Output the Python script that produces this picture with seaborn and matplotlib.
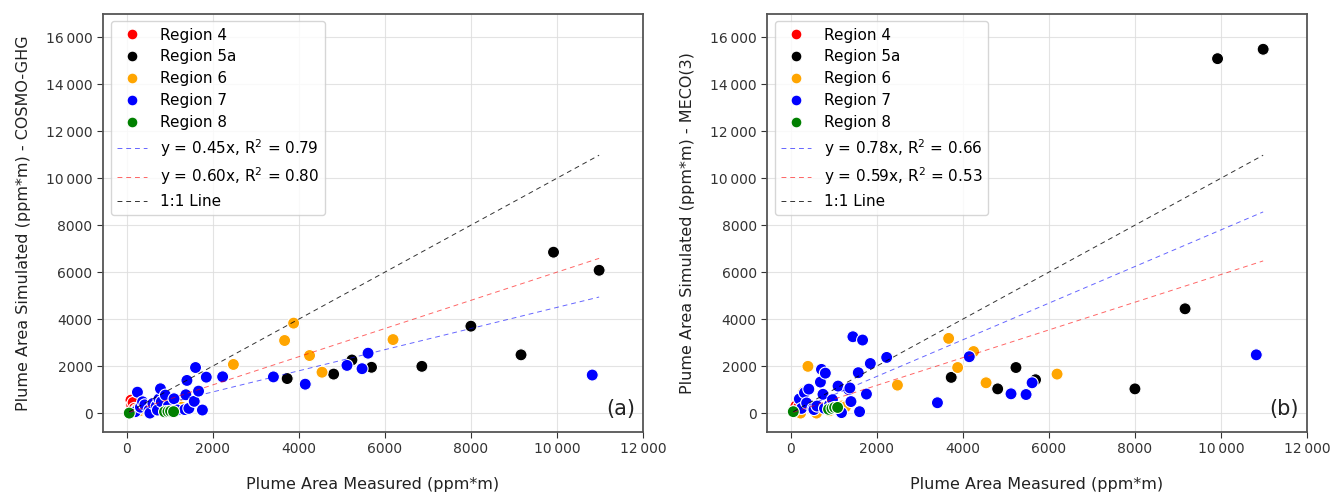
import numpy as np
import pandas as pd
import matplotlib
matplotlib.use("Agg")
import matplotlib.pyplot as plt
import seaborn as sns
from matplotlib.ticker import FuncFormatter, MultipleLocator

# measured plume area (ppm*m) and simulated values for both models, per region
region4_x = [100, 120, 150, 180]
region4_cosmo = [550, 330, 450, 200]
region4_meco = [150, 300, 100, 250]

region5a_x = [3730, 4810, 5235, 5690, 6860, 8000, 9165, 9920, 10980]
region5a_cosmo = [1470, 1660, 2260, 1950, 1990, 3700, 2480, 6850, 6080]
region5a_meco = [1520, 1030, 1940, 1420, np.nan, 1030, 4440, 15090, 15490]

region6_x = [230, 300, 400, 600, 900, 1190, 1275, 2480, 3670, 3880, 4250, 4540, 6190]
region6_cosmo = [150, 100, 200, 100, 150, 410, 250, 2070, 3090, 3830, 2450, 1740, 3130]
region6_meco = [0, 900, 1990, 0, 100, 300, 270, 1190, 3180, 1940, 2620, 1290, 1660]

region7_x = [200, 250, 320, 370, 420, 520, 540, 610, 690, 715, 750, 785, 805, 900,
             970, 1100, 1180, 1350, 1375, 1400, 1445, 1570, 1600, 1670, 1760, 1850,
             2230, 3410, 4150, 5120, 5470, 5610, 10820]
region7_cosmo = [60, 890, 250, 480, 350, 130, 0, 410, 300, 130, 600, 1035, 480, 765,
                 300, 610, 130, 150, 780, 1390, 200, 500, 1940, 935, 130, 1530,
                 1545, 1540, 1230, 2030, 1890, 2550, 1620]
region7_meco = [600, 200, 865, 430, 1020, 200, 150, 300, 1320, 1860, 800, 200, 1700, 350,
                570, 1150, 20, 1000, 1070, 490, 3250, 1720, 60, 3110, 810, 2110,
                2370, 440, 2400, 820, 790, 1290, 2480]

region8_x = [60, 880, 960, 1020, 1090]
region8_cosmo = [0, 55, 70, 80, 60]
region8_meco = [60, 160, 200, 240, 240]

regions = ["Region 4", "Region 5a", "Region 6", "Region 7", "Region 8"]
colors = ["red", "black", "orange", "blue", "green"]

fit_cosmo = [(0.45, 0.79), (0.60, 0.80)]
fit_meco = [(0.78, 0.66), (0.59, 0.53)]

rows = []
for name, xs, yc, ym in [
    ("Region 4", region4_x, region4_cosmo, region4_meco),
    ("Region 5a", region5a_x, region5a_cosmo, region5a_meco),
    ("Region 6", region6_x, region6_cosmo, region6_meco),
    ("Region 7", region7_x, region7_cosmo, region7_meco),
    ("Region 8", region8_x, region8_cosmo, region8_meco),
]:
    for x, c, m in zip(xs, yc, ym):
        rows.append({"Region": name, "measured": x, "cosmo": c, "meco": m})
df = pd.DataFrame(rows)


def fmt(v, pos):
    v = int(round(v))
    if abs(v) >= 10000:
        return f"{v:,}".replace(",", "\u2009")
    return str(v)


plt.rcParams["font.family"] = ["DejaVu Sans"]
fig = plt.figure(figsize=(13.31, 4.93), dpi=100)
ax1 = fig.add_axes([0.0774, 0.124, 0.4057, 0.848])
ax2 = fig.add_axes([0.5763, 0.124, 0.4057, 0.848])

palette = dict(zip(regions, colors))
xmin, xmax = df["measured"].min(), df["measured"].max()
xfit = np.linspace(xmin, xmax, 50)
dash = (0, (5, 4))

for ax, col, fits, ylab, tag in [
    (ax1, "cosmo", fit_cosmo, "Plume Area Simulated (ppm*m) - COSMO-GHG", "(a)"),
    (ax2, "meco", fit_meco, "Plume Area Simulated (ppm*m) - MECO(3)", "(b)"),
]:
    sns.scatterplot(data=df, x="measured", y=col, hue="Region", hue_order=regions,
                    palette=palette, s=75, edgecolor="white", linewidth=0.8,
                    ax=ax, zorder=3)
    (s1, r1), (s2, r2) = fits
    ax.plot(xfit, s1 * xfit, color="blue", ls=dash, lw=0.7, alpha=0.6,
            label=f"y = {s1:.2f}x, R$^2$ = {r1:.2f}", zorder=4)
    ax.plot(xfit, s2 * xfit, color="red", ls=dash, lw=0.7, alpha=0.6,
            label=f"y = {s2:.2f}x, R$^2$ = {r2:.2f}", zorder=4)
    ax.plot(xfit, xfit, color="black", ls=dash, lw=0.7, alpha=0.8,
            label="1:1 Line", zorder=4)
    ax.set_xlim(-550, 12000)
    ax.set_ylim(-800, 17000)
    ax.xaxis.set_major_locator(MultipleLocator(2000))
    ax.yaxis.set_major_locator(MultipleLocator(2000))
    ax.xaxis.set_major_formatter(FuncFormatter(fmt))
    ax.yaxis.set_major_formatter(FuncFormatter(fmt))
    ax.tick_params(labelsize=10, colors="#333333", length=4)
    ax.grid(True, color="#dddddd", lw=0.8, alpha=0.8)
    ax.set_axisbelow(True)
    for sp in ax.spines.values():
        sp.set_color("#555555")
        sp.set_linewidth(1.3)
    ax.set_xlabel("Plume Area Measured (ppm*m)", fontsize=11.5, color="#222222", labelpad=15)
    ax.set_ylabel(ylab, fontsize=11.5, color="#222222", labelpad=11)
    ax.legend(loc="upper left", fontsize=11, markerscale=0.9, labelspacing=0.45)
    ax.text(0.985, 0.03, tag, transform=ax.transAxes, ha="right", va="bottom",
            fontsize=15, color="#222222")

fig.savefig("out.png", dpi=100)
